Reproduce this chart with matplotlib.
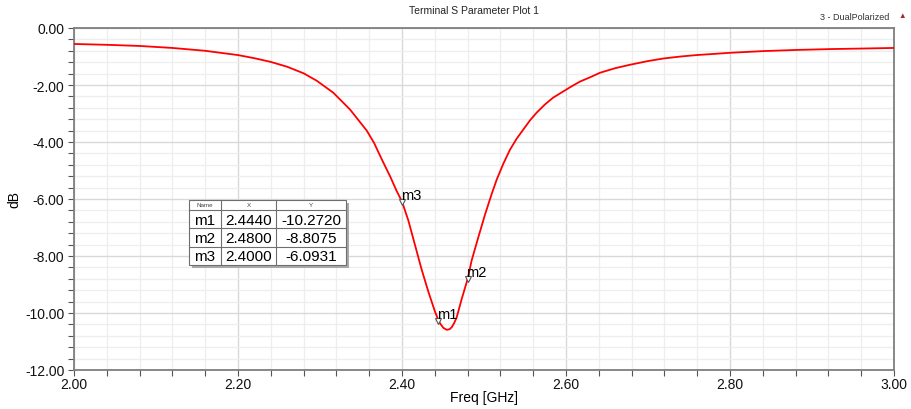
import numpy as np
import matplotlib
matplotlib.use("Agg")
import matplotlib.pyplot as plt
from matplotlib.ticker import MultipleLocator, FormatStrFormatter
from matplotlib.patches import Rectangle

plt.rcParams['font.family'] = ['Liberation Sans', 'DejaVu Sans']
plt.rcParams['axes.unicode_minus'] = False

# S11 sweep, 2-3 GHz
freq_ghz = [2.000, 2.040, 2.080, 2.120, 2.160, 2.200, 2.220, 2.240, 2.260, 2.280,
            2.296, 2.3162, 2.3366, 2.357, 2.3659, 2.3752, 2.3854, 2.3935, 2.400, 2.4077,
            2.4159, 2.424, 2.4321, 2.4402, 2.444, 2.4463, 2.4504, 2.4545, 2.458, 2.4606,
            2.4635, 2.4667, 2.4728, 2.480, 2.485, 2.493, 2.5012, 2.5094, 2.5155, 2.5236,
            2.5317, 2.5399, 2.548, 2.5561, 2.5642, 2.5744, 2.5845, 2.6049, 2.617, 2.6293,
            2.6415, 2.660, 2.678, 2.700, 2.7187, 2.740, 2.759, 2.780, 2.800, 2.8406,
            2.881, 2.922, 2.9626, 3.000]
s11_db = [-0.56, -0.59, -0.63, -0.70, -0.80, -0.95, -1.06, -1.19, -1.36, -1.59,
          -1.85, -2.27, -2.86, -3.60, -4.03, -4.60, -5.20, -5.72, -6.09, -6.75,
          -7.62, -8.48, -9.25, -9.95, -10.22, -10.36, -10.52, -10.59, -10.57, -10.50,
          -10.36, -10.15, -9.51, -8.81, -8.15, -7.35, -6.55, -5.82, -5.32, -4.76,
          -4.27, -3.88, -3.56, -3.24, -2.97, -2.68, -2.44, -2.08, -1.88, -1.73,
          -1.57, -1.41, -1.29, -1.16, -1.07, -1.00, -0.95, -0.91, -0.87, -0.81,
          -0.77, -0.74, -0.72, -0.70]

marker_names = ['m1', 'm2', 'm3']
marker_x = [2.4440, 2.4800, 2.4000]
marker_y = [-10.2720, -8.8075, -6.0931]

W, H = 911, 410
fig = plt.figure(figsize=(W / 100, H / 100), dpi=100)

def px(x, y):
    # pixel position (from top-left) -> figure fraction
    return x / W, 1 - y / H

ax = fig.add_axes([74 / W, 1 - 371 / H, (894 - 74) / W, (371 - 29) / H])

ax.plot(freq_ghz, s11_db, color='#ff0000', lw=1.3, zorder=3, solid_joinstyle='round')
for name, mx, my in zip(marker_names, marker_x, marker_y):
    ax.plot(mx, my, marker='v', ms=4.5, mfc='white', mec='#555555', mew=0.8, zorder=4)
    ax.annotate(name, (mx, my), xytext=(-1, 0), textcoords='offset points',
                ha='left', va='bottom', fontsize=10.5, color='black', zorder=5)

ax.set_xlim(2.0, 3.0)
ax.set_ylim(-12.0, 0.0)
ax.xaxis.set_major_locator(MultipleLocator(0.2))
ax.xaxis.set_minor_locator(MultipleLocator(0.04))
ax.yaxis.set_major_locator(MultipleLocator(2.0))
ax.yaxis.set_minor_locator(MultipleLocator(0.4))
ax.xaxis.set_major_formatter(FormatStrFormatter('%.2f'))
ax.yaxis.set_major_formatter(FormatStrFormatter('%.2f'))

ax.grid(which='major', color='#d9d9d9', lw=1.0, zorder=0)
ax.grid(which='minor', color='#eeeeee', lw=0.9, zorder=0)
ax.set_axisbelow(True)

for side in ['left', 'bottom', 'top', 'right']:
    ax.spines[side].set_color('#7f7f7f')
    ax.spines[side].set_linewidth(1.3)
ax.tick_params(which='both', direction='out', length=4, width=0.8, color='#555555',
               labelsize=10, labelcolor='#111111', pad=1)
ax.tick_params(axis='y', pad=3)

ax.set_xlabel('Freq [GHz]', fontsize=10, labelpad=-1)
ax.set_ylabel('dB', fontsize=10)
ax.yaxis.set_label_coords((21 - 74) / 820, 0.5)

fig.text(*px(474, 11), 'Terminal S Parameter Plot 1', ha='center', va='center',
         fontsize=7.5, color='#222222')
fig.text(*px(889, 18), '3 - DualPolarized', ha='right', va='center',
         fontsize=6.5, color='#333333')
fig.text(*px(902, 16), '\u25b2', ha='center', va='center', fontsize=5.5,
         color='#a02828')

# marker readout table
x_cols = [189, 221, 276, 346]
y_rows = [201, 211, 229.3, 247.5, 266]
shadow = Rectangle(px(x_cols[0] + 3, y_rows[-1] + 3), (x_cols[-1] - x_cols[0]) / W,
                   (y_rows[-1] - y_rows[0]) / H, transform=fig.transFigure,
                   facecolor='#a9a9a9', edgecolor='none', zorder=6)
fig.patches.append(shadow)
box = Rectangle(px(x_cols[0], y_rows[-1]), (x_cols[-1] - x_cols[0]) / W,
                (y_rows[-1] - y_rows[0]) / H, transform=fig.transFigure,
                facecolor='white', edgecolor='#6e6e6e', lw=0.8, zorder=7)
fig.patches.append(box)
for xc in x_cols[1:-1]:
    fig.add_artist(plt.Line2D([xc / W, xc / W], [1 - y_rows[0] / H, 1 - y_rows[-1] / H],
                              transform=fig.transFigure, color='#6e6e6e', lw=0.8, zorder=8))
for yr in y_rows[1:-1]:
    fig.add_artist(plt.Line2D([x_cols[0] / W, x_cols[-1] / W], [1 - yr / H, 1 - yr / H],
                              transform=fig.transFigure, color='#6e6e6e', lw=0.8, zorder=8))

headers = ['Name', 'X', 'Y']
for i, hdr in enumerate(headers):
    cx = (x_cols[i] + x_cols[i + 1]) / 2
    cy = (y_rows[0] + y_rows[1]) / 2
    fig.text(*px(cx, cy), hdr, ha='center', va='center', fontsize=4.5,
             color='#444444', zorder=9)

for r, (name, mx, my) in enumerate(zip(marker_names, marker_x, marker_y)):
    cells = [name, f'{mx:.4f}', f'{my:.4f}']
    cy = (y_rows[r + 1] + y_rows[r + 2]) / 2
    for i, txt in enumerate(cells):
        cx = (x_cols[i] + x_cols[i + 1]) / 2
        fig.text(*px(cx, cy + 0.5), txt, ha='center', va='center', fontsize=11,
                 color='black', zorder=9)

fig.savefig('out.png', dpi=100)
